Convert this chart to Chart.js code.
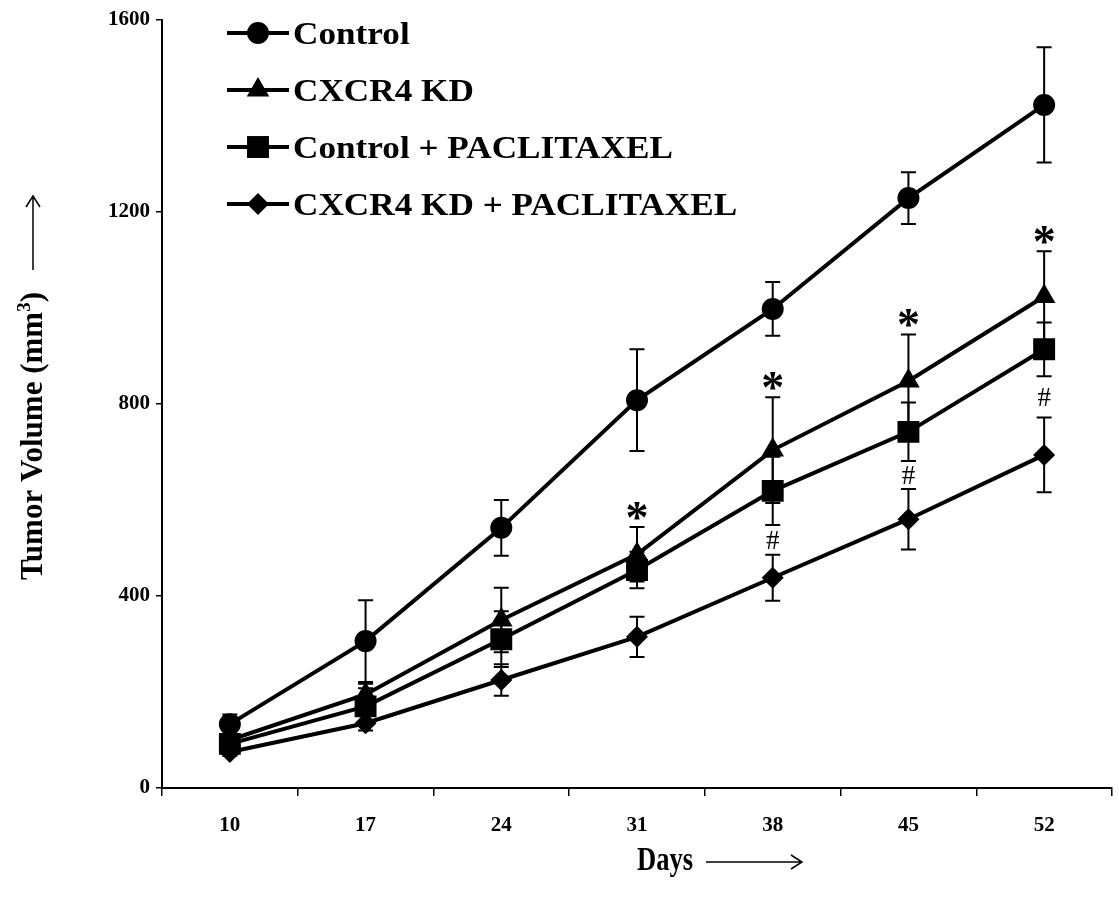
<!DOCTYPE html>
<html><head><meta charset="utf-8">
<script src="https://cdn.jsdelivr.net/npm/chart.js@4.4.0/dist/chart.umd.min.js"></script>
<style>html,body{margin:0;padding:0;background:#fff;} canvas{display:block;}</style>
</head><body>
<canvas id="c" width="1119" height="903"></canvas>
<script>
// ---- data ----
const days = ['10', '17', '24', '31', '38', '45', '52'];
const seriesNames = ['Control', 'CXCR4 KD', 'Control + PACLITAXEL', 'CXCR4 KD + PACLITAXEL'];
const control      = [133, 306, 542, 808, 998, 1229, 1423];
const controlErr   = [20, 85, 58, 106, 56, 54, 120];
const cxcr4kd      = [100, 195, 350, 487, 704, 848, 1024];
const cxcr4kdErr   = [12, 22, 67, 57, 110, 97, 94];
const ctrlPac      = [92, 170, 310, 454, 619, 742, 914];
const ctrlPacErr   = [10, 38, 58, 38, 71, 61, 56];
const kdPac        = [75, 135, 225, 315, 438, 560, 694];
const kdPacErr     = [8, 15, 33, 42, 48, 63, 78];
const starIdx = [3, 4, 5, 6];   // "*" above CXCR4 KD
const hashIdx = [4, 5, 6];      // "#" between Control+PACLITAXEL and CXCR4 KD+PACLITAXEL
const yTicks = [0, 400, 800, 1200, 1600];
const yTitle = 'Tumor Volume (mm';
const ySup = '3';
const xTitle = 'Days';

const FONT = "'Liberation Serif', 'Times New Roman', serif";
const styles = ['circle', 'triangle', 'rect', 'rectRot'];
const radii = [11, 13, 15.5, 11];
const values = [control, cxcr4kd, ctrlPac, kdPac];
const errs = [controlErr, cxcr4kdErr, ctrlPacErr, kdPacErr];

function marker(ctx, style, x, y, r) {
  ctx.beginPath();
  if (style === 'circle') ctx.arc(x, y, r, 0, 2 * Math.PI);
  else if (style === 'triangle') {
    for (let k = 0; k < 3; k++) {
      const a = k * 2 * Math.PI / 3;
      const px = x + Math.sin(a) * r, py = y - Math.cos(a) * r;
      k ? ctx.lineTo(px, py) : ctx.moveTo(px, py);
    }
    ctx.closePath();
  } else if (style === 'rect') {
    const s = Math.SQRT1_2 * r; ctx.rect(x - s, y - s, 2 * s, 2 * s);
  } else {
    ctx.moveTo(x - r, y); ctx.lineTo(x, y - r); ctx.lineTo(x + r, y); ctx.lineTo(x, y + r); ctx.closePath();
  }
  ctx.fill();
}

const errorBars = {
  id: 'errorBars',
  beforeDatasetsDraw(chart) {
    const ctx = chart.ctx, ys = chart.scales.y;
    ctx.save();
    ctx.strokeStyle = '#000'; ctx.lineWidth = 2;
    chart.data.datasets.forEach((ds, i) => {
      const meta = chart.getDatasetMeta(i);
      meta.data.forEach((pt, j) => {
        const e = errs[i][j], v = values[i][j];
        const t = ys.getPixelForValue(v + e), b = ys.getPixelForValue(v - e);
        ctx.beginPath();
        ctx.moveTo(pt.x, t); ctx.lineTo(pt.x, b);
        ctx.moveTo(pt.x - 7.5, t); ctx.lineTo(pt.x + 7.5, t);
        ctx.moveTo(pt.x - 7.5, b); ctx.lineTo(pt.x + 7.5, b);
        ctx.stroke();
      });
    });
    ctx.restore();
  }
};

const annotations = {
  id: 'annotations',
  afterDatasetsDraw(chart) {
    const ctx = chart.ctx, xs = chart.scales.x, ys = chart.scales.y;
    ctx.save();
    ctx.fillStyle = '#000'; ctx.textAlign = 'center'; ctx.textBaseline = 'alphabetic';
    ctx.font = 'bold 46px ' + FONT;
    starIdx.forEach(j => {
      const x = xs.getPixelForValue(j);
      const cy = ys.getPixelForValue(cxcr4kd[j] + cxcr4kdErr[j]) - 16;
      ctx.fillText('*', x, cy + 0.47 * 46);
    });
    ctx.font = '27px ' + FONT;
    hashIdx.forEach(j => {
      const x = xs.getPixelForValue(j);
      const a = ys.getPixelForValue(ctrlPac[j] - ctrlPacErr[j]);
      const b = ys.getPixelForValue(kdPac[j] + kdPacErr[j]);
      const cy = (a + b) / 2;
      ctx.fillText('#', x, cy + 0.34 * 27);
    });
    ctx.restore();
  },
  afterDraw(chart) {
    const ctx = chart.ctx;
    ctx.save();
    ctx.fillStyle = '#000'; ctx.strokeStyle = '#000';
    // legend
    const rows = [33, 90, 147, 204];
    seriesNames.forEach((name, i) => {
      const y = rows[i];
      ctx.lineWidth = 4;
      ctx.beginPath(); ctx.moveTo(227, y); ctx.lineTo(289, y); ctx.stroke();
      marker(ctx, styles[i], 258, y, radii[i]);
      ctx.save();
      ctx.translate(293, y + 10.5);
      ctx.scale(1.1, 1);
      ctx.font = 'bold 32px ' + FONT;
      ctx.textAlign = 'left'; ctx.textBaseline = 'alphabetic';
      ctx.fillText(name, 0, 0);
      ctx.restore();
    });
    // y title
    ctx.save();
    ctx.translate(34, 436);
    ctx.rotate(-Math.PI / 2);
    ctx.font = 'bold 31px ' + FONT;
    ctx.textBaseline = 'middle'; ctx.textAlign = 'left';
    const w1 = ctx.measureText(yTitle).width;
    ctx.font = 'bold 19px ' + FONT;
    const w2 = ctx.measureText(ySup).width;
    ctx.font = 'bold 31px ' + FONT;
    const w3 = ctx.measureText(')').width;
    let x0 = -(w1 + w2 + w3) / 2;
    ctx.fillText(yTitle, x0, 0);
    ctx.font = 'bold 19px ' + FONT;
    ctx.fillText(ySup, x0 + w1, -9);
    ctx.font = 'bold 31px ' + FONT;
    ctx.fillText(')', x0 + w1 + w2, 0);
    ctx.restore();
    // y arrow
    ctx.lineWidth = 1.5;
    ctx.beginPath();
    ctx.moveTo(33, 270); ctx.lineTo(33, 196);
    ctx.moveTo(26, 207); ctx.lineTo(33, 196); ctx.lineTo(40, 207);
    ctx.stroke();
    // x title
    ctx.font = 'bold 34px ' + FONT;
    ctx.textAlign = 'center'; ctx.textBaseline = 'middle';
    ctx.save();
    ctx.translate(665, 861); ctx.scale(0.78, 1);
    ctx.fillText(xTitle, 0, 0);
    ctx.restore();
    ctx.beginPath();
    ctx.moveTo(706, 862); ctx.lineTo(802, 862);
    ctx.moveTo(791, 855); ctx.lineTo(802, 862); ctx.lineTo(791, 869);
    ctx.stroke();
    ctx.restore();
  }
};

const datasets = seriesNames.map((name, i) => ({
  label: name,
  data: values[i],
  borderColor: '#000',
  backgroundColor: '#000',
  borderWidth: 4,
  pointStyle: styles[i],
  pointRadius: radii[i],
  pointBackgroundColor: '#000',
  pointBorderColor: '#000',
  pointBorderWidth: 0,
  tension: 0,
  fill: false
}));

new Chart(document.getElementById('c'), {
  type: 'line',
  data: { labels: days, datasets },
  options: {
    responsive: false,
    animation: false,
    devicePixelRatio: 1,
    layout: { autoPadding: false, padding: { top: 20, right: 7, bottom: 0, left: 0 } },
    plugins: { legend: { display: false }, tooltip: { enabled: false } },
    scales: {
      x: {
        type: 'category',
        offset: true,
        grid: { display: true, offset: true, drawOnChartArea: false, drawTicks: true, tickLength: 8, color: '#000', lineWidth: 1.5 },
        border: { display: true, color: '#000', width: 2 },
        ticks: { color: '#000', font: { family: FONT, size: 21, weight: 'bold' }, padding: 17, maxRotation: 0 },
        afterFit(s) { s.height = 115; s.paddingLeft = 0; s.paddingRight = 0; }
      },
      y: {
        min: 0, max: 1600,
        afterBuildTicks(s) { s.ticks = yTicks.map(v => ({ value: v })); },
        grid: { display: true, drawOnChartArea: false, drawTicks: true, tickLength: 6, color: '#000', lineWidth: 1.5 },
        border: { display: true, color: '#000', width: 2 },
        ticks: { color: '#000', font: { family: FONT, size: 21, weight: 'bold' }, padding: 6, callback: v => String(v) },
        afterFit(s) { s.width = 162; s.paddingTop = 0; s.paddingBottom = 0; }
      }
    }
  },
  plugins: [errorBars, annotations]
});
</script>
</body></html>
